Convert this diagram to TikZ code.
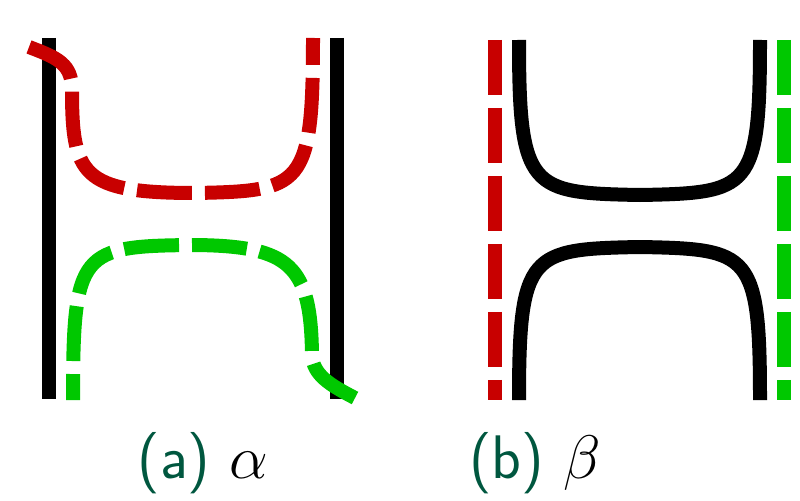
\RequirePackage{fix-cm}
\documentclass[tikz,border=0pt]{standalone}
\definecolor{wirered}{RGB}{200,0,0}
\definecolor{wiregreen}{RGB}{0,200,0}
\definecolor{captiongreen}{RGB}{0,87,63}
\tikzset{
  wire/.style={line width=0.28cm,line cap=butt},
  dashwire/.style={wire,dash pattern=on 1.1cm off 0.26cm},
  caption/.style={anchor=base,font=\sffamily\fontsize{35}{40}\selectfont,
                  text=captiongreen,inner sep=0pt}
}
\begin{document}
\begin{tikzpicture}[x=0.02cm,y=-0.02cm]
  \useasboundingbox (0,0) rectangle (800,500);
  % panel (a)
  \draw[wire] (49,38) -- (49,399);
  \draw[wire] (337,38) -- (337,399);
  \draw[dashwire,wirered] (29,47) .. controls (58,58) and (72,64) .. (72,90)
    .. controls (72,175) and (82,193) .. (195,193)
    .. controls (302,191) and (313,188) .. (313,38);
  \draw[dashwire,wiregreen] (355,398) .. controls (330,385) and (313,375) .. (312,355)
    .. controls (311,265) and (290,246) .. (195,245)
    .. controls (80,246) and (73,250) .. (73,400);
  % panel (b)
  \draw[dashwire,wirered] (495,40) -- (495,400);
  \draw[dashwire,wiregreen] (784,40) -- (784,400);
  \draw[wire] (519,40) .. controls (519,190) and (530,193) .. (640,195)
    .. controls (750,193) and (760,190) .. (760,40);
  \draw[wire] (519,400) .. controls (519,252) and (530,249) .. (640,247)
    .. controls (750,249) and (760,252) .. (760,400);
  % captions
  \node[caption] (capa) at (203,478) {(a) \textcolor{black}{$\alpha$}};
  \node[caption] (capb) at (535,478) {(b) \textcolor{black}{$\beta$}};
\end{tikzpicture}
\end{document}
